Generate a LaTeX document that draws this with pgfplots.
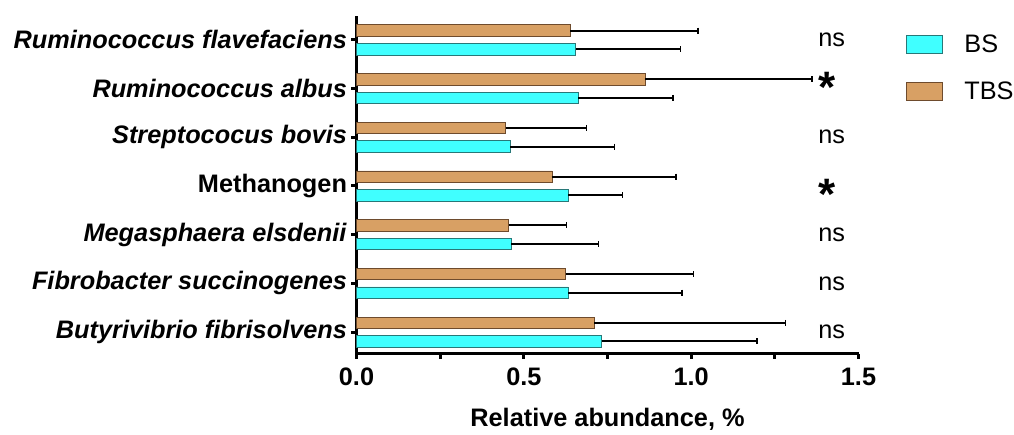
\documentclass[border=0pt]{standalone}
\usepackage{pgfplots}
\pgfplotsset{compat=1.18}
\usepackage{fontspec}
\setmainfont{Liberation Sans}
\definecolor{bsfill}{RGB}{64,255,255}
\definecolor{bsdraw}{RGB}{40,120,120}
\definecolor{tbsfill}{RGB}{216,160,100}
\definecolor{tbsdraw}{RGB}{110,75,45}
\begin{document}
\begin{tikzpicture}[x=1pt,y=1pt]
\useasboundingbox (0,0) rectangle (1014,434);
\begin{axis}[
  at={(356.5pt,80.5pt)}, anchor=south west,
  scale only axis, width=502pt, height=337.5pt,
  xbar, bar width=11.5pt,
  xmin=0, xmax=1.5, ymin=-0.44, ymax=6.49,
  axis x line*=bottom, axis y line*=left,
  axis line style={line width=3pt},
  every outer x axis line/.append style={line width=3pt},
  every outer y axis line/.append style={line width=3pt},
  every tick/.style={black, line width=3pt},
  tick align=outside,
  major tick length=5pt, minor tick length=5pt,
  xtick={0,0.5,1,1.5}, xticklabels={0.0,0.5,1.0,1.5},
  minor xtick={0.25,0.75,1.25},
  ytick={0,...,6},
  yticklabels={\textit{Butyrivibrio fibrisolvens},\textit{Fibrobacter succinogenes},\textit{Megasphaera elsdenii},Methanogen,\textit{Streptococus bovis},\textit{Ruminococcus albus},\textit{Ruminococcus flavefaciens}},
  ticklabel style={font=\bfseries\fontsize{25.3}{30}\selectfont},
  y tick label style={anchor=east, xshift=-1pt},
  x tick label style={anchor=north, yshift=-6pt},
  xlabel={Relative abundance, \%},
  xlabel style={font=\bfseries\fontsize{25.3}{30}\selectfont, at={(axis description cs:0.5,-0.215)}, anchor=base},
  legend style={draw=none, fill=none, at={(1.095,0.95)}, anchor=north west, inner sep=0pt,
    font=\fontsize{25.3}{30}\selectfont, row sep=24pt, cells={anchor=west}},
  legend image code/.code={\draw[#1, line width=1pt] (0pt,-9pt) rectangle (36pt,9pt);},
  error bars/error bar style={black, line width=2pt},
  error bars/error mark options={black, line width=1.6pt, mark size=3pt, rotate=90},
  clip=false,
]
\addplot[fill=bsfill, draw=bsdraw, line width=0.8pt, bar shift=-9.3pt,
  error bars/.cd, x dir=plus, x explicit]
  coordinates {(0.733,0) +- (0.463,0) (0.632,1) +- (0.341,0) (0.462,2) +- (0.261,0)
               (0.633,3) +- (0.162,0) (0.459,4) +- (0.312,0) (0.663,5) +- (0.282,0)
               (0.655,6) +- (0.313,0)};
\addplot[fill=tbsfill, draw=tbsdraw, line width=0.8pt, bar shift=9.3pt,
  error bars/.cd, x dir=plus, x explicit]
  coordinates {(0.711,0) +- (0.571,0) (0.625,1) +- (0.382,0) (0.455,2) +- (0.172,0)
               (0.584,3) +- (0.371,0) (0.446,4) +- (0.241,0) (0.862,5) +- (0.499,0)
               (0.639,6) +- (0.382,0)};
\legend{\hspace*{19pt}BS,\hspace*{19pt}TBS}
\begin{scope}[every node/.style={font=\fontsize{25.3}{30}\selectfont, inner sep=0pt}]
\node at (axis cs:1.42,6) {ns};
\node at (axis cs:1.42,4) {ns};
\node at (axis cs:1.42,2) {ns};
\node at (axis cs:1.42,1) {ns};
\node at (axis cs:1.42,0) {ns};
\node[font=\bfseries\fontsize{44}{44}\selectfont, yshift=1pt] at (axis cs:1.405,5) {*};
\node[font=\bfseries\fontsize{44}{44}\selectfont, yshift=-8pt] at (axis cs:1.405,3) {*};
\end{scope}
\end{axis}
\end{tikzpicture}
\end{document}
